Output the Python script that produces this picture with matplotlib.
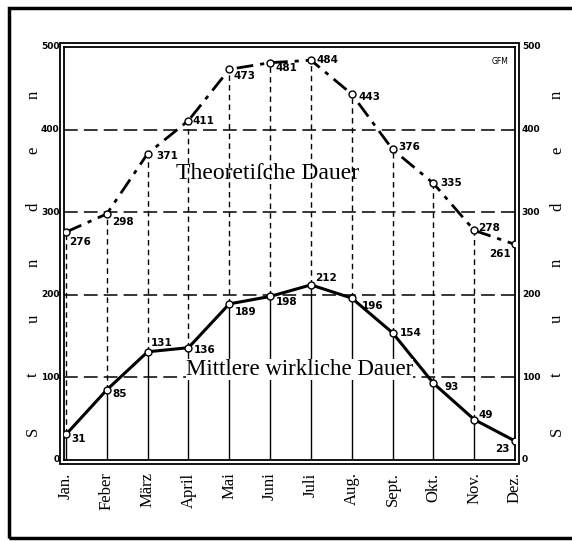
import numpy as np
import matplotlib
matplotlib.use("Agg")
import matplotlib.pyplot as plt
from matplotlib.patches import Rectangle

# Sonnenscheindauer, Stunden pro Monat
months = ["Jan.", "Feber", "März", "April", "Mai", "Juni",
          "Juli", "Aug.", "Sept.", "Okt.", "Nov.", "Dez."]
theoretical = [276, 298, 371, 411, 473, 481, 484, 443, 376, 335, 278, 261]
actual = [31, 85, 131, 136, 189, 198, 212, 196, 154, 93, 49, 23]
yticks = [0, 100, 200, 300, 400, 500]

# label offsets in points (dx, dy), alignment
up_off = [(2, -7, 'left'), (4, -6, 'left'), (6, -2, 'left'), (3, 0, 'left'),
          (3, -5, 'left'), (4, -4, 'left'), (4, 0, 'left'), (5, -2, 'left'),
          (4, 2, 'left'), (5, 0, 'left'), (3, 2, 'left'), (-3, -7, 'right')]
lo_off = [(4, -3, 'left'), (4, -3, 'left'), (2, 6, 'left'), (4, -2, 'left'),
          (4, -6, 'left'), (4, -4, 'left'), (3, 5, 'left'), (7, -6, 'left'),
          (5, 0, 'left'), (8, -3, 'left'), (3, 3, 'left'), (-4, -6, 'right')]

serif = "Liberation Serif"

fig = plt.figure(figsize=(5.72, 5.41), dpi=100)
fig.patch.set_facecolor("white")
W, H = 572, 541
ax = fig.add_axes([64 / W, 1 - 460 / H, (515 - 64) / W, (460 - 47) / H])

x = np.arange(len(months))
ax.set_xlim(-0.05, 11.0)
ax.set_ylim(0, 500)

# horizontal grid
for v in yticks[1:-1]:
    ax.axhline(v, color="black", lw=1.1, dashes=(9, 4), zorder=1)

# vertical month lines: solid below real curve, dashed up to the theoretical one
for i in x:
    ax.plot([i, i], [0, actual[i]], color="black", lw=1.0, zorder=1)
    ax.plot([i, i], [actual[i], theoretical[i]], color="black", lw=1.0,
            dashes=(4, 3), zorder=1)

ax.plot(x, theoretical, color="black", lw=2.0, dashes=(6, 2.5, 1.5, 2.5),
        marker="o", ms=5, mfc="white", mec="black", mew=1.0, zorder=3)
ax.plot(x, actual, color="black", lw=2.2,
        marker="o", ms=5, mfc="white", mec="black", mew=1.0, zorder=3)

for i in x:
    dx, dy, ha = up_off[i]
    ax.annotate(str(theoretical[i]), (i, theoretical[i]), xytext=(dx, dy),
                textcoords="offset points", ha=ha, va="center", fontsize=7.5,
                fontweight="bold", zorder=4)
    dx, dy, ha = lo_off[i]
    ax.annotate(str(actual[i]), (i, actual[i]), xytext=(dx, dy),
                textcoords="offset points", ha=ha, va="center", fontsize=7.5,
                fontweight="bold", zorder=4)

ax.text(4.94, 347, "Theoretiſche Dauer", fontsize=17, family=serif,
        ha="center", va="center", zorder=4)
ax.text(5.72, 109, "Mittlere wirkliche Dauer", fontsize=16.5, family=serif,
        ha="center", va="center", zorder=4,
        bbox=dict(facecolor="white", edgecolor="none", pad=0))
ax.text(0.985, 0.975, "GFM", transform=ax.transAxes, fontsize=5.5,
        ha="right", va="top")

# ticks
ax.set_xticks([])
ax.set_yticks([])
for v in yticks:
    ax.text(-0.01, v, str(v), transform=ax.get_yaxis_transform(),
            ha="right", va="center", fontsize=6.5, fontweight="bold")
    ax.text(1.015, v, str(v), transform=ax.get_yaxis_transform(),
            ha="left", va="center", fontsize=6.5, fontweight="bold")

for i, m in enumerate(months):
    ax.text(i, -0.03, m, transform=ax.get_xaxis_transform(), rotation=90,
            ha="center", va="top", fontsize=12, family=serif)

# "Stunden" on both sides
for ch, yf in zip("Stunden", np.linspace(0.07, 0.885, 7)):
    ax.text(-0.068, yf, ch, transform=ax.transAxes, rotation=90,
            ha="center", va="center", fontsize=12, family=serif)
    ax.text(1.093, yf, ch, transform=ax.transAxes, rotation=90,
            ha="center", va="center", fontsize=12, family=serif)

# double frame
for s in ax.spines.values():
    s.set_linewidth(1.3)
ax.add_patch(Rectangle((-4 / 451, -4 / 413), 1 + 8 / 451, 1 + 8 / 413,
                       transform=ax.transAxes, fill=False, lw=1.3,
                       clip_on=False, zorder=5))

# outer page frame
fig.patches.append(Rectangle((9 / W, 1 - 538 / H), 580 / W, 530 / H,
                             transform=fig.transFigure, fill=False, lw=2.5,
                             edgecolor="black"))

fig.savefig("out.png", dpi=100)
